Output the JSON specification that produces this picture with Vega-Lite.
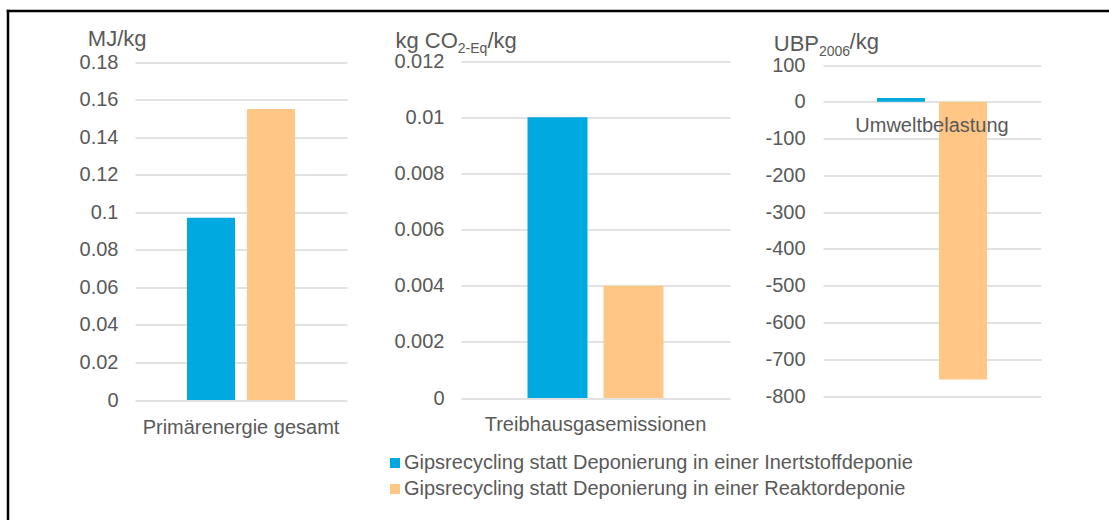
{
  "$schema": "https://vega.github.io/schema/vega-lite/v6.json",
  "background": "white",
  "padding": {"left": 7.5, "top": 10.5, "right": 0, "bottom": 0},
  "autosize": {"type": "none"},
  "width": 1101.5,
  "height": 509.5,
  "view": {"stroke": null, "fill": "white"},
  "config": {
    "font": "Liberation Sans",
    "axis": {
      "labelColor": "#595959",
      "titleColor": "#595959",
      "labelFont": "Liberation Sans",
      "titleFont": "Liberation Sans",
      "labelFontSize": 20,
      "titleFontWeight": "normal",
      "gridColor": "#D9D9D9",
      "gridWidth": 1.3,
      "domain": false,
      "ticks": false,
      "tickSize": 0
    },
    "title": {"color": "#595959", "font": "Liberation Sans", "fontWeight": "normal"}
  },
  "title": {"text": "/kg", "anchor": "start", "frame": "group", "fontSize": 22, "dx": 842.1, "dy": 60, "offset": 0, "baseline": "alphabetic"},
  "data": {
    "values": [
      {"kategorie": "Primärenergie gesamt", "szenario": "Gipsrecycling statt Deponierung in einer Inertstoffdeponie", "wert": 0.097},
      {"kategorie": "Primärenergie gesamt", "szenario": "Gipsrecycling statt Deponierung in einer Reaktordeponie", "wert": 0.155},
      {"kategorie": "Treibhausgasemissionen", "szenario": "Gipsrecycling statt Deponierung in einer Inertstoffdeponie", "wert": 0.01},
      {"kategorie": "Treibhausgasemissionen", "szenario": "Gipsrecycling statt Deponierung in einer Reaktordeponie", "wert": 0.004},
      {"kategorie": "Umweltbelastung", "szenario": "Gipsrecycling statt Deponierung in einer Inertstoffdeponie", "wert": 10},
      {"kategorie": "Umweltbelastung", "szenario": "Gipsrecycling statt Deponierung in einer Reaktordeponie", "wert": -755}
    ]
  },
  "resolve": {
    "scale": {"x": "independent", "y": "independent", "xOffset": "independent"},
    "axis": {"x": "independent", "y": "independent"}
  },
  "layer": [
    {
      "mark": {"type": "point", "opacity": 0},
      "encoding": {
        "x": {"field": "wert", "type": "quantitative", "scale": {"range": [-1.25, 1101.5]},
              "axis": {"orient": "top", "offset": 0, "domain": true, "domainColor": "black", "domainWidth": 2.5, "domainCap": "butt", "labels": false, "grid": false, "ticks": false, "title": null}},
        "y": {"field": "wert", "type": "quantitative", "scale": {"range": [-1.25, 509.5]},
              "axis": {"orient": "left", "offset": 0, "domain": true, "domainColor": "black", "domainWidth": 2.5, "domainCap": "butt", "labels": false, "grid": false, "ticks": false, "title": null}}
      }
    },
    {
      "transform": [{"filter": "datum.kategorie === 'Primärenergie gesamt'"}],
      "mark": {"type": "bar"},
      "encoding": {
        "x": {"field": "kategorie", "type": "nominal", "scale": {"range": [127.5, 339.5], "paddingOuter": 0.4815, "paddingInner": 0},
              "axis": {"orient": "bottom", "offset": -120, "grid": false, "labelAngle": 0, "labelPadding": 17, "labelLimit": 0,
                       "title": "/kg", "titleFontSize": 22, "titleAngle": 0, "titleAlign": "left", "titleBaseline": "alphabetic", "titleX": 479.5, "titleY": -352.7}},
        "xOffset": {"field": "szenario", "type": "nominal", "scale": {"paddingInner": 0.2, "paddingOuter": 0}},
        "y": {"field": "wert", "type": "quantitative", "scale": {"domain": [0, 0.18], "nice": false, "range": [389.5, 51.5]},
              "axis": {"orient": "left", "offset": -127.5, "grid": true, "values": [0, 0.02, 0.04, 0.06, 0.08, 0.1, 0.12, 0.14, 0.16, 0.18], "labelExpr": "datum.value + ''", "labelPadding": 17,
                       "title": "MJ/kg", "titleFontSize": 22, "titleAngle": 0, "titleAlign": "left", "titleBaseline": "alphabetic", "titleX": -47.7, "titleY": 35.2}},
        "color": {"field": "szenario", "type": "nominal",
                  "scale": {"domain": ["Gipsrecycling statt Deponierung in einer Inertstoffdeponie", "Gipsrecycling statt Deponierung in einer Reaktordeponie"], "range": ["#00A9E0", "#FFC685"]},
                  "legend": {"orient": "none", "legendX": 377.5, "legendY": 442.5, "direction": "vertical", "title": null, "symbolType": "square", "symbolSize": 100, "symbolStrokeWidth": 0, "labelFontSize": 20, "labelFont": "Liberation Sans", "labelColor": "#595959", "labelOffset": -1, "rowPadding": 6, "labelLimit": 0, "padding": 0}}
      }
    },
    {
      "transform": [{"filter": "datum.kategorie === 'Treibhausgasemissionen'"}],
      "mark": {"type": "bar"},
      "encoding": {
        "x": {"field": "kategorie", "type": "nominal", "scale": {"range": [453.5, 722.5], "paddingOuter": 0.489, "paddingInner": 0},
              "axis": {"orient": "bottom", "offset": -122, "grid": false, "labelAngle": 0, "labelPadding": 16, "labelLimit": 0,
                       "title": "2-Eq", "titleFontSize": 14, "titleAngle": 0, "titleAlign": "left", "titleBaseline": "alphabetic", "titleX": 449.8, "titleY": -346}},
        "xOffset": {"field": "szenario", "type": "nominal", "scale": {"paddingInner": 0.2105, "paddingOuter": 0}},
        "y": {"field": "wert", "type": "quantitative", "scale": {"domain": [0, 0.012], "nice": false, "range": [387.5, 50.5]},
              "axis": {"orient": "left", "offset": -453.5, "grid": true, "values": [0, 0.002, 0.004, 0.006, 0.008, 0.01, 0.012], "labelExpr": "datum.value + ''", "labelPadding": 17,
                       "title": "kg CO", "titleFontSize": 22, "titleAngle": 0, "titleAlign": "left", "titleBaseline": "alphabetic", "titleX": -66, "titleY": 36.8}},
        "color": {"field": "szenario", "type": "nominal"}
      }
    },
    {
      "transform": [{"filter": "datum.kategorie === 'Umweltbelastung'"}],
      "mark": {"type": "bar"},
      "encoding": {
        "x": {"field": "kategorie", "type": "nominal", "scale": {"range": [815.5, 1033.5], "paddingOuter": 0.491, "paddingInner": 0},
              "axis": {"orient": "bottom", "offset": -418.2, "grid": false, "labelAngle": 0, "labelPadding": 14, "labelLimit": 0, "zindex": 1,
                       "title": "2006", "titleFontSize": 14, "titleAngle": 0, "titleAlign": "left", "titleBaseline": "alphabetic", "titleX": 811, "titleY": -46.8}},
        "xOffset": {"field": "szenario", "type": "nominal", "scale": {"paddingInner": 0.226, "paddingOuter": 0}},
        "y": {"field": "wert", "type": "quantitative", "scale": {"domain": [-800, 100], "nice": false, "range": [385.5, 54.5]},
              "axis": {"orient": "left", "offset": -815.5, "grid": true, "values": [-800, -700, -600, -500, -400, -300, -200, -100, 0, 100], "labelExpr": "datum.value + ''", "labelPadding": 18,
                       "title": "UBP", "titleFontSize": 22, "titleAngle": 0, "titleAlign": "left", "titleBaseline": "alphabetic", "titleX": -49.7, "titleY": 39.5}},
        "color": {"field": "szenario", "type": "nominal"}
      }
    }
  ]
}
